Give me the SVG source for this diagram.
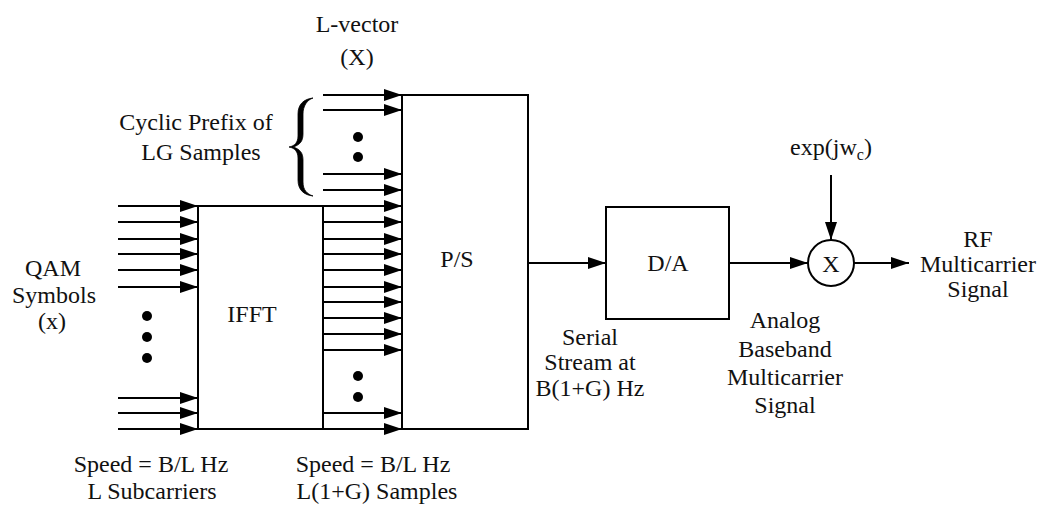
<svg xmlns="http://www.w3.org/2000/svg" width="1052" height="507" viewBox="0 0 1052 507" font-family="'Liberation Serif', 'Times New Roman', Times, 'DejaVu Serif', serif">
<style>
.box{fill:none;stroke:#000;stroke-width:2}
.ar{stroke:#000;stroke-width:2;fill:none;marker-end:url(#ah)}
text{font-family:'Liberation Serif','Times New Roman',Times,'DejaVu Serif',serif;font-size:24px;fill:#111;text-anchor:middle}
.dot{fill:#000}
</style>
<defs>
<marker id="ah" markerUnits="userSpaceOnUse" markerWidth="18" markerHeight="12" refX="18" refY="6" orient="auto">
<path d="M0,0 L18,6 L0,12 z" fill="#000"/>
</marker>
</defs>
<rect width="1052" height="507" fill="#fff"/>
<g id="ifft">
<rect class="box" x="198" y="206" width="125" height="223"/>
<text x="252" y="322">IFFT</text>
</g>
<g id="ps">
<rect class="box" x="402" y="95" width="126" height="334"/>
<text x="457" y="267">P/S</text>
</g>
<g id="da">
<rect class="box" x="606" y="207" width="123" height="112"/>
<text x="668" y="271">D/A</text>
</g>
<g id="mixer">
<circle class="box" cx="831" cy="263" r="23"/>
<text x="831" y="272">X</text>
</g>
<g id="connectors">
<line class="ar" x1="118" y1="206" x2="198" y2="206"/>
<line class="ar" x1="118" y1="222" x2="198" y2="222"/>
<line class="ar" x1="118" y1="239" x2="198" y2="239"/>
<line class="ar" x1="118" y1="254" x2="198" y2="254"/>
<line class="ar" x1="118" y1="270" x2="198" y2="270"/>
<line class="ar" x1="118" y1="287" x2="198" y2="287"/>
<line class="ar" x1="118" y1="398" x2="198" y2="398"/>
<line class="ar" x1="118" y1="413" x2="198" y2="413"/>
<line class="ar" x1="118" y1="429" x2="198" y2="429"/>
<line class="ar" x1="323" y1="95" x2="402" y2="95"/>
<line class="ar" x1="323" y1="110" x2="402" y2="110"/>
<line class="ar" x1="323" y1="174" x2="402" y2="174"/>
<line class="ar" x1="323" y1="190" x2="402" y2="190"/>
<line class="ar" x1="323" y1="206" x2="402" y2="206"/>
<line class="ar" x1="323" y1="222" x2="402" y2="222"/>
<line class="ar" x1="323" y1="239" x2="402" y2="239"/>
<line class="ar" x1="323" y1="254" x2="402" y2="254"/>
<line class="ar" x1="323" y1="270" x2="402" y2="270"/>
<line class="ar" x1="323" y1="287" x2="402" y2="287"/>
<line class="ar" x1="323" y1="302" x2="402" y2="302"/>
<line class="ar" x1="323" y1="318" x2="402" y2="318"/>
<line class="ar" x1="323" y1="334" x2="402" y2="334"/>
<line class="ar" x1="323" y1="350" x2="402" y2="350"/>
<line class="ar" x1="323" y1="413" x2="402" y2="413"/>
<line class="ar" x1="323" y1="429" x2="402" y2="429"/>
<line class="ar" x1="528" y1="263" x2="606" y2="263"/>
<line class="ar" x1="729" y1="263" x2="808" y2="263"/>
<line class="ar" x1="831" y1="175" x2="831" y2="240"/>
<line class="ar" x1="854" y1="263" x2="909" y2="263"/>
</g>
<g id="dots">
<circle class="dot" cx="147" cy="316" r="5"/>
<circle class="dot" cx="147" cy="337" r="5"/>
<circle class="dot" cx="147" cy="358" r="5"/>
<circle class="dot" cx="358" cy="137" r="5"/>
<circle class="dot" cx="358" cy="157" r="5"/>
<circle class="dot" cx="358" cy="376" r="5"/>
<circle class="dot" cx="358" cy="397" r="5"/>
</g>
<g id="brace">
<path d="M313,98 C304,99 298,104 298,114 L298,136 C298,142 295,146 289,147 C295,148 298,152 298,158 L298,180 C298,190 304,195 313,196 C307,194 303,190 303,182 L303,160 C303,153 300,149 293,147 C300,145 303,141 303,134 L303,114 C303,106 307,100 313,98 Z" fill="#000" stroke="#000" stroke-width="0.8"/>
</g>
<g id="labels">
<text x="357" y="32">L-vector</text>
<text x="357" y="65">(X)</text>
<text x="196" y="130">Cyclic Prefix of</text>
<text x="201" y="160">LG Samples</text>
<text x="53" y="276">QAM</text>
<text x="54" y="303">Symbols</text>
<text x="52" y="329">(x)</text>
<text x="151" y="472">Speed = B/L Hz</text>
<text x="152" y="499">L Subcarriers</text>
<text x="373" y="472">Speed = B/L Hz</text>
<text x="377" y="499">L(1+G) Samples</text>
<text x="590" y="345">Serial</text>
<text x="590" y="370">Stream at</text>
<text x="590" y="396">B(1+G) Hz</text>
<text x="785" y="328">Analog</text>
<text x="785" y="357">Baseband</text>
<text x="785" y="385">Multicarrier</text>
<text x="785" y="413">Signal</text>
<text x="831" y="155">exp(jw<tspan font-size="16" dy="5">c</tspan><tspan dy="-5">)</tspan></text>
<text x="978" y="247">RF</text>
<text x="978" y="272">Multicarrier</text>
<text x="978" y="297">Signal</text>
</g>
</svg>
